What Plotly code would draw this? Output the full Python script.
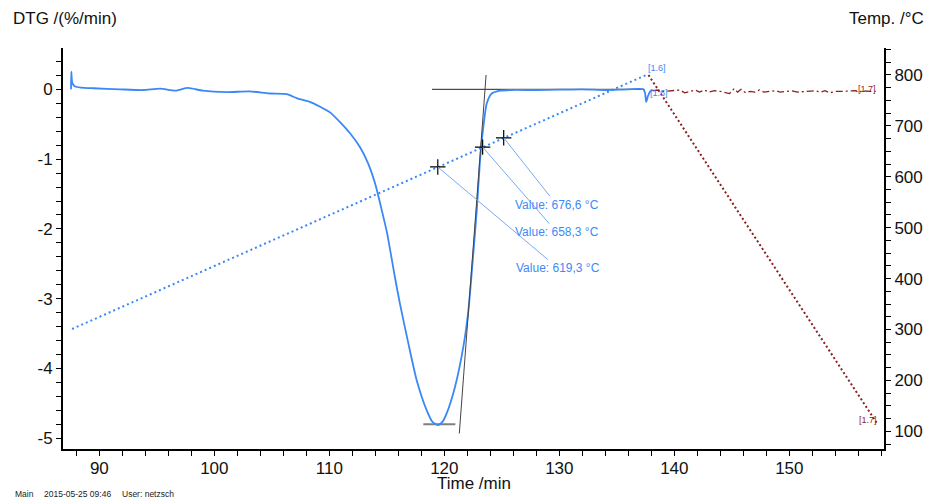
import plotly.graph_objects as go

FONT = "Liberation Sans, Arial, sans-serif"
BLUE = "#3a88f7"
RED = "#8b1f1f"

# ---- Segment 1.6 : DTG (%/min) vs time (min)
dtg_time = [87.54, 87.56, 87.65, 87.9, 88.4, 89.5, 91.8, 93.8, 95.3, 96.6, 97.7, 99.0,
            101.1, 103.1, 104.8, 106.3, 107.2, 108.3, 109.2, 110.06, 110.93, 111.8,
            112.67, 113.37, 113.98, 114.41, 115.02, 115.71, 116.15, 116.87, 117.6,
            118.47, 118.95, 119.43, 119.85, 120.21, 120.93, 121.65, 122.09, 122.47, 122.82,
            123.1, 123.39, 123.69, 124.12, 124.85, 125.72, 128.0, 130.0, 132.0, 134.0, 136.0,
            137.3, 137.45, 137.55, 137.7, 137.9, 138.1]
dtg_value = [0.0, 0.25, 0.09, 0.04, 0.025, 0.015, 0.0, -0.01, 0.01, -0.02, 0.02, -0.02,
             -0.04, -0.03, -0.06, -0.07, -0.13, -0.18, -0.25, -0.33, -0.47, -0.63,
             -0.83, -1.06, -1.35, -1.63, -2.06, -2.70, -3.08, -3.64, -4.17,
             -4.6, -4.76, -4.81, -4.76, -4.64, -4.26, -3.69, -3.17, -2.45, -1.73,
             -1.02, -0.54, -0.2, -0.06, -0.02, -0.01, -0.01, -0.005, 0.0, -0.01, 0.0,
             0.0, -0.05, -0.18, -0.1, -0.03, -0.01]

# ---- Segment 1.6 : temperature (°C)
temp_time = [87.63, 137.55]
temp_value = [301, 800]

# ---- Segment 1.7 : DTG (%/min)
dtg17_time = [138.1, 138.6, 139.0, 139.5, 140.0, 140.5, 140.9, 141.4, 141.8, 142.2, 142.6,
              143.0, 143.5, 144.0, 144.4, 144.8, 145.2, 145.5, 145.8, 146.2, 146.6, 147.0,
              147.4, 147.8, 148.3, 148.8, 149.2, 149.7, 150.2, 150.7, 151.2, 151.7, 152.2,
              152.7, 153.1, 153.5, 154.0, 154.5, 155.0, 155.5, 155.8, 156.0, 156.3, 157.0,
              157.5]
dtg17_value = [-0.02, -0.01, -0.03, -0.02, -0.01, -0.01, -0.05, -0.03, -0.01, -0.04, -0.01,
               -0.04, -0.02, -0.03, -0.05, -0.06, 0.01, -0.04, 0.0, -0.05, -0.03, -0.04,
               -0.01, -0.04, -0.03, -0.02, -0.04, -0.03, -0.02, -0.04, -0.03, -0.03, -0.02,
               -0.04, -0.02, -0.05, -0.03, -0.03, -0.03, -0.03, -0.02, -0.05, -0.02, -0.03,
               -0.03]

# ---- Segment 1.7 : temperature (°C)
temp17_time = [137.75, 157.58]
temp17_value = [800, 117]

# ---- Evaluation: tangents and min line (DTG units)
tangent_time = [123.63, 121.30]
tangent_value = [0.205, -4.93]
baseline_time = [118.93, 137.4]
baseline_value = [0.0, 0.0]
min_time = [118.17, 120.96]
min_value = [-4.80, -4.80]

# ---- Value markers on temperature curve
mark_time = [119.43, 123.33, 125.16]
mark_temp = [619.3, 658.3, 676.6]
mark_text = ["Value: 619,3 °C", "Value: 658,3 °C", "Value: 676,6 °C"]
mark_offset = [(120, 101), (74, 85), (53, 67)]

# ---- Axis ticks
x_ticks = [90, 100, 110, 120, 130, 140, 150]
y_ticks = [0, -1, -2, -3, -4, -5]
y_ticktext = ["0", "-1", "-2", "-3", "-4", "-5"]
y2_ticks = [100, 200, 300, 400, 500, 600, 700, 800]

fig = go.Figure()

fig.add_trace(go.Scatter(x=temp_time, y=temp_value, yaxis="y2", mode="lines",
                         line=dict(color=BLUE, width=2, dash="2px,3px")))
fig.add_trace(go.Scatter(x=temp17_time, y=temp17_value, yaxis="y2", mode="lines",
                         line=dict(color=RED, width=2, dash="2px,2.5px")))
fig.add_trace(go.Scatter(x=baseline_time, y=baseline_value, mode="lines",
                         line=dict(color="#222222", width=1)))
fig.add_trace(go.Scatter(x=min_time, y=min_value, mode="lines",
                         line=dict(color="#808080", width=2)))
fig.add_trace(go.Scatter(x=dtg_time, y=dtg_value, mode="lines",
                         line=dict(color=BLUE, width=1.8, shape="spline", smoothing=0.6)))
fig.add_trace(go.Scatter(x=tangent_time, y=tangent_value, mode="lines",
                         line=dict(color="#444444", width=1)))
fig.add_trace(go.Scatter(x=dtg17_time, y=dtg17_value, mode="lines",
                         line=dict(color=RED, width=1.3, dash="7px,3px,2px,3px")))
fig.add_trace(go.Scatter(x=mark_time, y=mark_temp, yaxis="y2", mode="markers",
                         marker=dict(symbol="cross-thin-open", size=11, color="black",
                                     line=dict(color="black", width=1.2))))

annotations = []
for t, T, txt, (ax, ay) in zip(mark_time, mark_temp, mark_text, mark_offset):
    annotations.append(dict(x=t, y=T, xref="x", yref="y2", text=txt, showarrow=True,
                            arrowhead=0, arrowwidth=1, arrowcolor="#78aaf5", ax=ax, ay=ay,
                            font=dict(family=FONT, size=12, color="#3d8af7")))

# segment labels
annotations += [
    dict(x=temp_time[-1], y=temp_value[-1], xref="x", yref="y2", text="[1.6]",
         showarrow=False, xanchor="left", yanchor="bottom", xshift=0, yshift=0,
         font=dict(family=FONT, size=9, color=BLUE)),
    dict(x=dtg_time[-1], y=dtg_value[-1], xref="x", yref="y", text="[1.6]",
         showarrow=False, xanchor="left", yanchor="middle", xshift=-5, yshift=-3,
         font=dict(family=FONT, size=9, color=BLUE)),
    dict(x=dtg17_time[-1], y=dtg17_value[-1], xref="x", yref="y", text="[1.7]",
         showarrow=False, xanchor="right", yanchor="middle", xshift=2, yshift=2,
         font=dict(family=FONT, size=9, color=RED)),
    dict(x=temp17_time[-1], y=temp17_value[-1], xref="x", yref="y2", text="[1.7]",
         showarrow=False, xanchor="right", yanchor="bottom", xshift=2, yshift=-4,
         font=dict(family=FONT, size=9, color=RED)),
]

# axis titles and footer
annotations += [
    dict(x=(11 - 63) / 821, y=(449 - 19) / 401, xref="paper", yref="paper",
         text="DTG /(%/min)", showarrow=False, xanchor="left", yanchor="middle",
         font=dict(family=FONT, size=17, color="#111111")),
    dict(x=(926 - 63) / 821, y=(449 - 19) / 401, xref="paper", yref="paper",
         text="Temp. /°C", showarrow=False, xanchor="right", yanchor="middle",
         font=dict(family=FONT, size=17, color="#111111")),
    dict(x=0.5, y=(449 - 483) / 401, xref="paper", yref="paper",
         text="Time /min", showarrow=False, xanchor="center", yanchor="middle",
         font=dict(family=FONT, size=17, color="#111111")),
    dict(x=(13 - 63) / 821, y=(449 - 494) / 401, xref="paper", yref="paper",
         text="Main", showarrow=False, xanchor="left", yanchor="middle",
         font=dict(family=FONT, size=8.5, color="#222222")),
    dict(x=(42 - 63) / 821, y=(449 - 494) / 401, xref="paper", yref="paper",
         text="2015-05-25 09:46", showarrow=False, xanchor="left", yanchor="middle",
         font=dict(family=FONT, size=8.5, color="#222222")),
    dict(x=(120 - 63) / 821, y=(449 - 494) / 401, xref="paper", yref="paper",
         text="User: netzsch", showarrow=False, xanchor="left", yanchor="middle",
         font=dict(family=FONT, size=8.5, color="#222222")),
]

axis_common = dict(showgrid=False, zeroline=False, showline=True, linecolor="black",
                   linewidth=2, ticks="outside", ticklen=5, tickwidth=1.3,
                   tickcolor="black", automargin=False,
                   tickfont=dict(family=FONT, size=17, color="#111111"))

fig.update_layout(
    width=927, height=502, autosize=False,
    margin=dict(l=63, r=43, t=48, b=53),
    paper_bgcolor="white", plot_bgcolor="white",
    showlegend=False,
    annotations=annotations,
    xaxis=dict(range=[86.84, 158.23], tickvals=x_ticks, ticklabelstandoff=-2,
               minor=dict(dtick=2, tick0=0, ticks="outside", ticklen=5, tickcolor="black",
                          tickwidth=1.3),
               **axis_common),
    yaxis=dict(range=[-5.153, 0.592], tickvals=y_ticks, ticktext=y_ticktext,
               minor=dict(dtick=0.2, tick0=0, ticks="outside", ticklen=5, tickcolor="black",
                          tickwidth=1.3),
               **axis_common),
    yaxis2=dict(range=[65.2, 853], tickvals=y2_ticks, overlaying="y", side="right",
                anchor="x",
                minor=dict(dtick=25, tick0=0, ticks="outside", ticklen=5, tickcolor="black",
                           tickwidth=1.3),
                **axis_common),
)

fig.write_html("out.html", config={"displayModeBar": False},
               post_script="document.body.style.margin='0';document.body.style.padding='0';"
                           "document.body.style.overflow='hidden';")
